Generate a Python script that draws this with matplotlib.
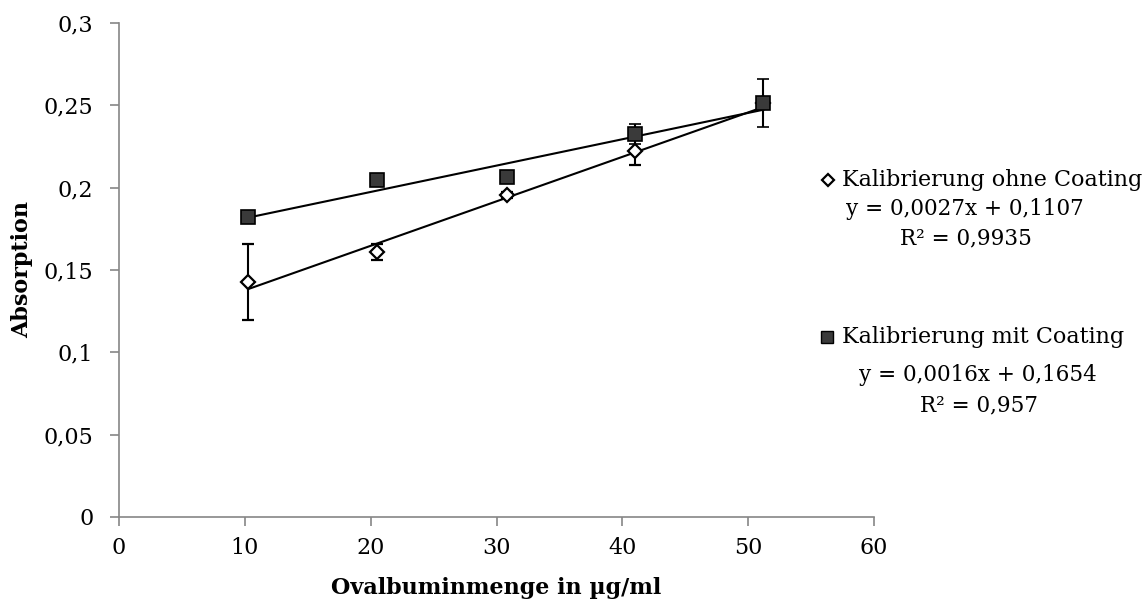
import matplotlib
matplotlib.use("Agg")
import matplotlib.pyplot as plt
from matplotlib.lines import Line2D
import numpy as np

# values
conc = [10.25, 20.5, 30.8, 41.0, 51.2]
abs_ohne = [0.1425, 0.161, 0.1955, 0.222, 0.2515]
err_ohne = [0.023, 0.005, 0.002, 0.008, 0.003]
abs_mit = [0.182, 0.2047, 0.2065, 0.2325, 0.2515]
err_mit = [0.002, 0.002, 0.002, 0.006, 0.0145]

fit_ohne = (0.0027, 0.1107)
fit_mit = (0.0016, 0.1654)

x_ticks = [0, 10, 20, 30, 40, 50, 60]
y_ticks = [0, 0.05, 0.1, 0.15, 0.2, 0.25, 0.3]
y_tick_labels = ["0", "0,05", "0,1", "0,15", "0,2", "0,25", "0,3"]

plt.rcParams["font.family"] = ["DejaVu Serif"]

fig = plt.figure(figsize=(11.48, 6.02), dpi=100)
ax = fig.add_axes([0.1037, 0.1412, 0.6576, 0.8206])

xs = np.array([conc[0], conc[-1]])
ax.plot(xs, fit_mit[0] * xs + fit_mit[1], color="black", lw=1.5, zorder=2)
ax.plot(xs, fit_ohne[0] * xs + fit_ohne[1], color="black", lw=1.5, zorder=2)

ax.errorbar(conc, abs_ohne, yerr=err_ohne, fmt="D", ms=7.5, mfc="white",
            mec="black", mew=1.6, ecolor="black", elinewidth=1.5, capsize=4,
            capthick=1.5, zorder=3)
ax.errorbar(conc, abs_mit, yerr=err_mit, fmt="s", ms=10, mfc="#3a3a3a",
            mec="black", mew=1.2, ecolor="black", elinewidth=1.5, capsize=4,
            capthick=1.5, zorder=4)

ax.set_xlim(0, 60)
ax.set_ylim(0, 0.3)
ax.set_xticks(x_ticks)
ax.set_xticklabels([str(v) for v in x_ticks])
ax.set_yticks(y_ticks)
ax.set_yticklabels(y_tick_labels)
ax.tick_params(labelsize=16, length=6.5, width=1.2, color="#868686", direction="out")
ax.tick_params(axis="x", pad=8)
ax.tick_params(axis="y", pad=12)
for side in ("top", "right"):
    ax.spines[side].set_visible(False)
for side in ("left", "bottom"):
    ax.spines[side].set_color("#868686")
    ax.spines[side].set_linewidth(1.2)

ax.set_xlabel("Ovalbuminmenge in µg/ml", fontsize=16, fontweight="bold")
ax.set_ylabel("Absorption", fontsize=16, fontweight="bold")
ax.xaxis.set_label_coords(0.5, -0.122)
ax.yaxis.set_label_coords(-0.114, 0.5)

# legend-like labels with trendline equations
fig.add_artist(Line2D([0.7213], [0.701], marker="D", ms=6.5, mfc="white",
                      mec="black", mew=1.6, transform=fig.transFigure))
fig.add_artist(Line2D([0.7204], [0.4402], marker="s", ms=9, mfc="#3a3a3a",
                      mec="black", mew=1, transform=fig.transFigure))
fig.text(0.7334, 0.701, "Kalibrierung ohne Coating", fontsize=16, va="center")
fig.text(0.8406, 0.6528, "y = 0,0027x + 0,1107", fontsize=15.5, va="center", ha="center")
fig.text(0.8415, 0.6047, "R² = 0,9935", fontsize=15.5, va="center", ha="center")
fig.text(0.7334, 0.4402, "Kalibrierung mit Coating", fontsize=16, va="center")
fig.text(0.8519, 0.3771, "y = 0,0016x + 0,1654", fontsize=15.5, va="center", ha="center")
fig.text(0.8528, 0.3272, "R² = 0,957", fontsize=15.5, va="center", ha="center")

fig.savefig("out.png", dpi=100)
